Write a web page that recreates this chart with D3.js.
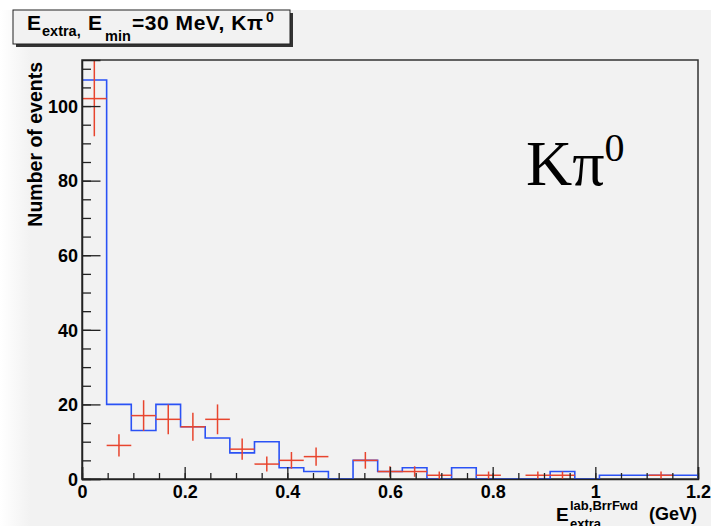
<!DOCTYPE html>
<html>
<head>
<meta charset="utf-8">
<script src="https://cdn.jsdelivr.net/npm/d3@7/dist/d3.min.js"></script>
<style>
body { margin: 0; background: #fff; }
svg { display: block; }
text { font-family: "Liberation Sans", Arial, sans-serif; font-weight: bold; fill: #000; }
</style>
</head>
<body>
<script>
// histogram: 25 bins from 0 to 1.2 GeV
var nBins = 25, xMin = 0, xMax = 1.2;
var mcCounts = [107, 20, 13, 20, 14, 11, 7, 10, 3, 2, 0, 5, 2, 3, 0, 3, 0, 0, 0, 2, 0, 1, 1, 1, 1];
var dataCounts = [102, 9, 17, 16, 14, 16, 8, 4, 5, 6, 0, 5, 2, 2, 1, 0, 1, 0, 1, 1, 0, 0, 0, 1, 0];
var xTicks = [0, 0.2, 0.4, 0.6, 0.8, 1, 1.2];
var yTicks = [0, 20, 40, 60, 80, 100];

var W = 711, H = 526;
var padL = 82, padR = 698, padT = 60, padB = 479;

var svg = d3.select('body')
		.append('svg')
		.attr('width', W)
		.attr('height', H);

// slide-ish background
var defs = svg.append('defs');
var grad = defs.append('linearGradient').attr('id', 'lg').attr('x1', 0).attr('x2', 1).attr('y1', 0).attr('y2', 0);
grad.append('stop').attr('offset', '0').attr('stop-color', '#ffffff');
grad.append('stop').attr('offset', '1').attr('stop-color', '#f2f2f2');
svg.append('rect').attr('x', 0).attr('y', 0).attr('width', W).attr('height', H).attr('fill', '#fff');
svg.append('rect').attr('x', 10).attr('y', 10).attr('width', W - 10).attr('height', H - 10).attr('fill', '#f2f2f2');
svg.append('rect').attr('x', 0).attr('y', 10).attr('width', 30).attr('height', H - 10).attr('fill', 'url(#lg)');

defs.append('clipPath').attr('id', 'clip')
	.append('rect').attr('x', padL).attr('y', padT).attr('width', padR - padL).attr('height', padB - padT);

var x = d3.scaleLinear().domain([xMin, xMax]).range([padL, padR]);
var y = d3.scaleLinear().domain([0, 1.05 * d3.max(mcCounts)]).range([padB, padT]);

var bw = (xMax - xMin) / nBins;
var edges = d3.range(nBins + 1).map(function(i) { return xMin + i * bw; });

// frame
svg.append('rect')
	.attr('x', padL).attr('y', padT)
	.attr('width', padR - padL).attr('height', padB - padT)
	.attr('fill', 'none').attr('stroke', '#333').attr('stroke-width', 1.5);

var plot = svg.append('g').attr('clip-path', 'url(#clip)');

// blue MC histogram as a step outline
var pts = [[x(edges[0]), y(0)]];
mcCounts.forEach(function(c, i) {
	pts.push([x(edges[i]), y(c)]);
	pts.push([x(edges[i + 1]), y(c)]);
});
pts.push([x(edges[nBins]), y(0)]);
plot.append('path')
	.attr('d', d3.line()(pts))
	.attr('fill', 'none')
	.attr('stroke', '#2a52f5')
	.attr('stroke-width', 1.6);

// red data points with error bars
var red = '#e8452e';
var dp = dataCounts.map(function(c, i) { return { c: c, lo: edges[i], hi: edges[i + 1] }; })
	.filter(function(d) { return d.c > 0; });
var g = plot.selectAll('g.pt').data(dp).enter().append('g').attr('class', 'pt');
g.append('line')
	.attr('x1', function(d) { return x(d.lo); })
	.attr('x2', function(d) { return x(d.hi); })
	.attr('y1', function(d) { return y(d.c); })
	.attr('y2', function(d) { return y(d.c); })
	.attr('stroke', red).attr('stroke-width', 1.5);
g.append('line')
	.attr('x1', function(d) { return x((d.lo + d.hi) / 2); })
	.attr('x2', function(d) { return x((d.lo + d.hi) / 2); })
	.attr('y1', function(d) { return y(d.c - Math.sqrt(d.c)); })
	.attr('y2', function(d) { return y(d.c + Math.sqrt(d.c)); })
	.attr('stroke', red).attr('stroke-width', 1.5);

// axes, ticks inside like ROOT
var xMinor = d3.range(0, 1.2001, 0.05);
var yMinor = d3.range(0, 112, 5);

svg.append('g').attr('transform', 'translate(0,' + padB + ')')
	.call(d3.axisBottom(x).tickValues(xMinor).tickSize(-6).tickFormat(''))
	.call(function(a) { a.select('.domain').remove(); });
var xa = svg.append('g').attr('transform', 'translate(0,' + padB + ')')
	.call(d3.axisBottom(x).tickValues(xTicks).tickSize(-12)
		.tickFormat(function(d) { return d3.format('~g')(d); }));
xa.selectAll('text').attr('font-size', 18).attr('dy', 0).attr('y', 19);

svg.append('g').attr('transform', 'translate(' + padL + ',0)')
	.call(d3.axisLeft(y).tickValues(yMinor).tickSize(-9).tickFormat(''))
	.call(function(a) { a.select('.domain').remove(); });
var ya = svg.append('g').attr('transform', 'translate(' + padL + ',0)')
	.call(d3.axisRight(y).tickValues(yTicks).tickSize(18.5).tickFormat(d3.format('d')));
ya.selectAll('text').attr('font-size', 18).attr('x', -4).attr('dy', '0.35em').attr('text-anchor', 'end');

svg.selectAll('.tick line').attr('stroke', '#222').attr('stroke-width', 1.3);
svg.selectAll('.domain').attr('stroke', '#222').attr('stroke-width', 1.5);
svg.selectAll('.tick text').style('font-family', '"Liberation Sans", Arial, sans-serif').style('font-weight', 'bold');

// y title
svg.append('text')
	.attr('transform', 'translate(42,62) rotate(-90)')
	.attr('text-anchor', 'end')
	.attr('font-size', 19.5)
	.text('Number of events');

// x title
svg.append('text').attr('x', 556).attr('y', 521).attr('font-size', 19).text('E');
svg.append('text').attr('x', 570).attr('y', 510).attr('font-size', 13).text('lab,BrrFwd');
svg.append('text').attr('x', 570).attr('y', 528).attr('font-size', 13).text('extra');
svg.append('text').attr('x', 697).attr('y', 520).attr('text-anchor', 'end').attr('font-size', 18).text('(GeV)');

// big label
var kl = svg.append('text').attr('x', 526).attr('y', 185)
	.style('font-family', '"Liberation Serif", "Times New Roman", serif').style('font-weight', 'normal')
	.attr('font-size', 64);
kl.append('tspan').text('K\u03c0');
kl.append('tspan').attr('font-size', 40).attr('dy', -24).text('0');

// title box with shadow
svg.append('rect').attr('x', 16).attr('y', 13).attr('width', 277).attr('height', 34).attr('fill', '#333');
svg.append('rect').attr('x', 13).attr('y', 10).attr('width', 277).attr('height', 34)
	.attr('fill', '#f2f2f2').attr('stroke', '#222').attr('stroke-width', 1);
svg.append('text').attr('x', 27).attr('y', 30).attr('font-size', 21).text('E');
svg.append('text').attr('x', 42).attr('y', 36).attr('font-size', 14.5).text('extra,');
svg.append('text').attr('x', 88).attr('y', 30).attr('font-size', 21).text('E');
svg.append('text').attr('x', 105).attr('y', 41).attr('font-size', 14.5).text('min');
svg.append('text').attr('x', 132).attr('y', 30).attr('font-size', 21).attr('textLength', 131).text('=30 MeV, K\u03c0');
svg.append('text').attr('x', 266).attr('y', 22).attr('font-size', 14).text('0');
</script>
</body>
</html>
